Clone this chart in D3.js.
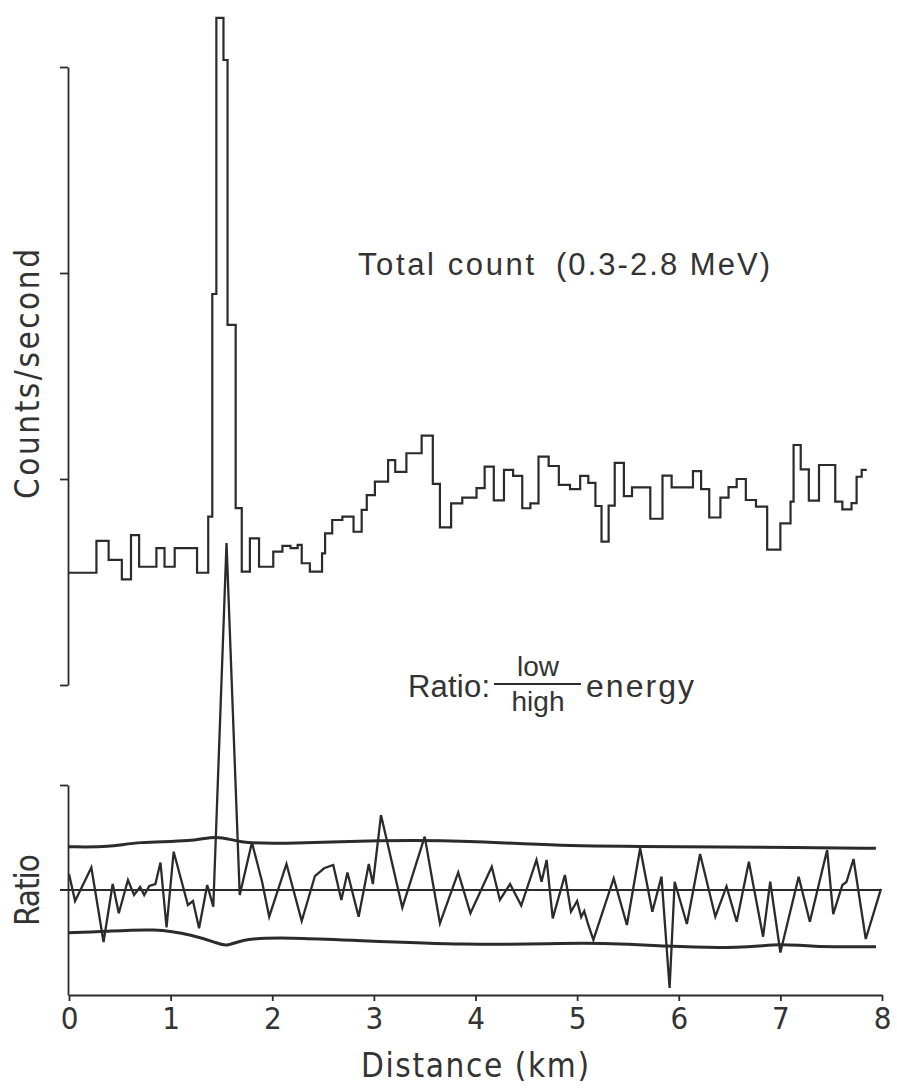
<!DOCTYPE html>
<html>
<head>
<meta charset="utf-8">
<script src="https://cdn.jsdelivr.net/npm/d3@7"></script>
<style>
  body { margin: 0; background: #fff; }
  text { font-family: "Liberation Sans", Arial, Helvetica, sans-serif; fill: #333; }
  .narrow { font-family: "Liberation Sans Narrow", "DejaVu Sans Condensed", "Liberation Sans", Arial, sans-serif; }
</style>
</head>
<body>
<svg id="chart" width="897" height="1089"></svg>
<script>
// total count, one step per entry: start of step (km) and level (counts/second, tick units)
const countStart = [0.00, 0.27, 0.39, 0.52, 0.61, 0.69, 0.86, 0.94, 1.04, 1.26,
    1.37, 1.41, 1.45, 1.52, 1.56, 1.64, 1.70, 1.78, 1.87, 2.01,
    2.10, 2.18, 2.25, 2.29, 2.37, 2.49, 2.52, 2.59, 2.69, 2.80,
    2.88, 2.93, 3.01, 3.14, 3.21, 3.32, 3.47, 3.58, 3.65, 3.76,
    3.87, 4.01, 4.09, 4.18, 4.28, 4.37, 4.46, 4.54, 4.62, 4.72,
    4.82, 4.93, 5.03, 5.11, 5.18, 5.24, 5.31, 5.37, 5.46, 5.54,
    5.72, 5.84, 5.93, 6.14, 6.22, 6.30, 6.41, 6.49, 6.57, 6.66,
    6.76, 6.87, 7.00, 7.10, 7.13, 7.20, 7.28, 7.38, 7.54, 7.61,
    7.70, 7.75, 7.80];
const countValue = [0.545, 0.700, 0.607, 0.513, 0.728, 0.574, 0.664, 0.574, 0.664, 0.545,
    0.817, 1.898, 3.238, 3.034, 1.748, 0.859, 0.550, 0.712, 0.574, 0.647,
    0.675, 0.664, 0.680, 0.591, 0.550, 0.639, 0.736, 0.801, 0.817, 0.744,
    0.850, 0.922, 0.987, 1.092, 1.035, 1.125, 1.211, 0.976, 0.765, 0.882,
    0.910, 0.956, 1.060, 0.896, 1.044, 1.015, 0.858, 0.882, 1.109, 1.063,
    0.971, 0.951, 1.015, 0.981, 0.869, 0.696, 0.871, 1.078, 0.917, 0.959,
    0.807, 1.016, 0.959, 1.038, 0.951, 0.813, 0.910, 0.961, 1.000, 0.898,
    0.866, 0.657, 0.785, 0.890, 1.165, 1.047, 0.895, 1.068, 0.890, 0.853,
    0.883, 1.011, 1.044];
const countEnd = 7.85;

// low/high energy ratio (zigzag), distance in km and ratio in tick units
const ratioKm = [0.00, 0.06, 0.22, 0.34, 0.43, 0.49, 0.58, 0.64, 0.70, 0.74,
    0.79, 0.85, 0.90, 0.96, 1.03, 1.17, 1.22, 1.28, 1.36, 1.42,
    1.55, 1.68, 1.80, 1.90, 1.97, 2.14, 2.29, 2.42, 2.51, 2.60,
    2.68, 2.74, 2.85, 2.95, 2.99, 3.07, 3.28, 3.50, 3.65, 3.83,
    3.95, 4.16, 4.24, 4.34, 4.45, 4.60, 4.65, 4.70, 4.76, 4.88,
    4.94, 5.00, 5.04, 5.07, 5.11, 5.16, 5.36, 5.49, 5.62, 5.74,
    5.83, 5.91, 5.96, 6.08, 6.21, 6.36, 6.47, 6.57, 6.69, 6.83,
    6.90, 7.00, 7.18, 7.29, 7.46, 7.52, 7.61, 7.65, 7.72, 7.84,
    7.99];
const ratioVal = [0.152, -0.105, 0.214, -0.495, 0.057, -0.222, 0.095, -0.048, 0.029, -0.048,
    0.038, 0.057, 0.262, -0.357, 0.365, -0.143, -0.105, -0.365, 0.048, -0.159,
    3.305, -0.048, 0.452, 0.079, -0.254, 0.248, -0.295, 0.133, 0.207, 0.238,
    -0.095, 0.167, -0.254, 0.248, 0.057, 0.714, -0.167, 0.508, -0.317, 0.167,
    -0.222, 0.222, -0.095, 0.057, -0.148, 0.286, 0.079, 0.286, -0.270, 0.143,
    -0.207, -0.105, -0.257, -0.200, -0.333, -0.476, 0.111, -0.333, 0.397, -0.207,
    0.127, -0.933, 0.079, -0.324, 0.343, -0.254, 0.035, -0.302, 0.270, -0.445,
    0.079, -0.595, 0.127, -0.302, 0.381, -0.229, 0.048, 0.076, 0.295, -0.467,
    0.010];

// confidence envelopes around the ratio
const upperKm = [0.00, 0.40, 0.67, 1.22, 1.45, 1.68, 2.03, 3.08, 3.95, 4.76, 6.06, 7.19, 7.94];
const upperVal = [0.412, 0.407, 0.460, 0.460, 0.524, 0.450, 0.438, 0.476, 0.470, 0.419, 0.412, 0.405, 0.397];
const lowerKm = [0.00, 0.33, 0.86, 1.22, 1.45, 1.55, 1.68, 2.03, 4.05, 5.10, 5.88, 6.62, 7.01, 7.27, 7.94];
const lowerVal = [-0.407, -0.397, -0.365, -0.429, -0.502, -0.540, -0.476, -0.438, -0.540, -0.492, -0.540, -0.555, -0.508, -0.540, -0.540];

const xTicks = [0, 1, 2, 3, 4, 5, 6, 7, 8];
const countTicks = [0, 1, 2, 3];
const ratioTicks = [1];

const ink = "#2b2b2b";
const svg = d3.select("#chart");

const x = d3.scaleLinear().domain([0, 8]).range([69, 882]);
const yCount = d3.scaleLinear().domain([0, 3]).range([685, 67]);
const yRatio = d3.scaleLinear().domain([-1, 1]).range([995, 785]);

// axes
const countAxis = svg.append("g")
    .attr("transform", "translate(" + (x(0) - 1) + ",0)")
    .call(d3.axisLeft(yCount).tickValues(countTicks).tickSize(8).tickSizeOuter(0).tickFormat(""));

const ratioAxis = svg.append("g")
    .attr("transform", "translate(" + (x(0) - 1) + ",0)")
    .call(d3.axisLeft(yRatio).tickValues(ratioTicks).tickSize(8).tickSizeOuter(0).tickFormat(""));

const xAxis = svg.append("g")
    .attr("transform", "translate(0," + yRatio(-1) + ")")
    .call(d3.axisBottom(x).tickValues(xTicks).tickSize(6).tickSizeOuter(0).tickPadding(6));

xAxis.selectAll("text")
    .attr("class", "narrow")
    .style("font-size", "31px")
    .attr("fill", "#333");
for (const g of [countAxis, ratioAxis, xAxis]) {
    g.selectAll("path, line").attr("stroke", ink).attr("stroke-width", 1.8);
}

// zero line of ratio
svg.append("line")
    .attr("x1", x(0) - 9).attr("x2", x(8) - 2)
    .attr("y1", yRatio(0)).attr("y2", yRatio(0))
    .attr("stroke", ink).attr("stroke-width", 2);

// total count histogram
let steps = countStart.map((d, i) => [d, countValue[i]]);
steps.push([countEnd, countValue[countValue.length - 1]]);
svg.append("path")
    .datum(steps)
    .attr("fill", "none")
    .attr("stroke", ink)
    .attr("stroke-width", 2.2)
    .attr("d", d3.line().x(d => x(d[0])).y(d => yCount(d[1])).curve(d3.curveStepAfter));

// envelopes
const env = d3.line().x(d => x(d[0])).y(d => yRatio(d[1])).curve(d3.curveBasis);
svg.append("path")
    .datum(upperKm.map((d, i) => [d, upperVal[i]]))
    .attr("fill", "none").attr("stroke", ink).attr("stroke-width", 3)
    .attr("d", env);
svg.append("path")
    .datum(lowerKm.map((d, i) => [d, lowerVal[i]]))
    .attr("fill", "none").attr("stroke", ink).attr("stroke-width", 3)
    .attr("d", env);

// ratio zigzag
svg.append("path")
    .datum(ratioKm.map((d, i) => [d, ratioVal[i]]))
    .attr("fill", "none")
    .attr("stroke", ink)
    .attr("stroke-width", 2.3)
    .attr("stroke-linejoin", "miter")
    .attr("d", d3.line().x(d => x(d[0])).y(d => yRatio(d[1])));

// labels
svg.append("text")
    .attr("class", "narrow")
    .attr("transform", "translate(39,374) rotate(-90)")
    .attr("text-anchor", "middle")
    .attr("textLength", 250)
    .style("font-size", "33px")
    .text("Counts/second");

svg.append("text")
    .attr("class", "narrow")
    .attr("transform", "translate(39,890) rotate(-90)")
    .attr("text-anchor", "middle")
    .attr("textLength", 72)
    .style("font-size", "33px")
    .text("Ratio");

svg.append("text")
    .attr("class", "narrow")
    .attr("x", 475).attr("y", 1077)
    .attr("text-anchor", "middle")
    .attr("textLength", 228)
    .style("font-size", "33px")
    .text("Distance (km)");

svg.append("text")
    .attr("x", 358).attr("y", 275)
    .attr("textLength", 176)
    .style("font-size", "31px")
    .text("Total count");

svg.append("text")
    .attr("x", 556).attr("y", 275)
    .attr("textLength", 214)
    .style("font-size", "31px")
    .text("(0.3-2.8 MeV)");

svg.append("text")
    .attr("x", 408).attr("y", 697)
    .attr("textLength", 82)
    .style("font-size", "31px")
    .text("Ratio:");

svg.append("text")
    .attr("x", 538).attr("y", 676)
    .attr("text-anchor", "middle")
    .style("font-size", "28px")
    .text("low");

svg.append("line")
    .attr("x1", 494).attr("x2", 581)
    .attr("y1", 684).attr("y2", 684)
    .attr("stroke", ink).attr("stroke-width", 2);

svg.append("text")
    .attr("x", 538).attr("y", 711)
    .attr("text-anchor", "middle")
    .style("font-size", "28px")
    .text("high");

svg.append("text")
    .attr("x", 586).attr("y", 697)
    .attr("textLength", 108)
    .style("font-size", "32px")
    .text("energy");
</script>
</body>
</html>
